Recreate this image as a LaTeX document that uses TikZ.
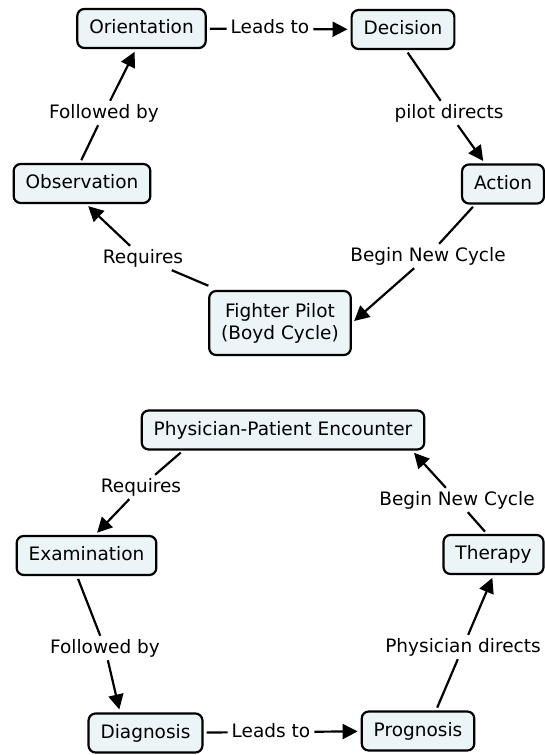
\documentclass[tikz,border=0pt]{standalone}
\usepackage{fontspec}
\setmainfont{DejaVu Sans}
\usetikzlibrary{arrows.meta}
\definecolor{conceptfill}{HTML}{EBF4F6}

\begin{document}
\begin{tikzpicture}[x=1bp,y=-1bp,
  font=\fontsize{18.5bp}{22bp}\selectfont,
  concept box/.style={draw=black,line width=2.2bp,fill=conceptfill,
    rounded corners=7bp,inner xsep=12bp,inner ysep=6bp,minimum height=39bp},
  concept/.style={concept box,text height=14bp,text depth=4bp},
  linking/.style={inner xsep=4bp,inner ysep=3bp,text height=14bp,text depth=4bp},
  linkline/.style={line width=2.2bp,shorten <=3bp},
  linkarrow/.style={line width=2.2bp,-{Triangle[length=15bp,width=15bp]},shorten >=3bp}]

  \useasboundingbox (0,0) rectangle (545,755);

  % Cycle one: the fighter pilot (Boyd cycle)

  \node [concept] (OR) at (141.5,28.5) {Orientation};
  \node [concept] (DE) at (403,29.5) {Decision};
  \node [concept] (OB) at (82,183.5) {Observation};
  \node [concept] (AC) at (503,184) {Action};
  \node [concept box, align=center, minimum height=64bp] (FP) at (280,323)
    {Fighter Pilot\\(Boyd Cycle)};

  \node [linking] (LT1) at (270,29) {Leads to};
  \node [linking] (FB1) at (104,113) {Followed by};
  \node [linking] (PD) at (449,113) {pilot directs};
  \node [linking] (RQ1) at (143,258) {Requires};
  \node [linking] (BNC1) at (428,256) {Begin New Cycle};

  \draw [linkline] (OR) -- (LT1);
  \draw [linkarrow] (LT1) -- (DE);
  \draw [linkline] ([xshift=3bp]DE.south) -- (PD);
  \draw [linkarrow] (PD) -- ([xshift=-18bp]AC.north);
  \draw [linkline] ([xshift=-28bp]AC.south) -- (BNC1);
  \draw [linkarrow] (BNC1) -- (FP.east);
  \draw [linkline] ([xshift=3bp,yshift=3bp]FP.north west) -- (RQ1);
  \draw [linkarrow] (RQ1) -- ([xshift=4bp]OB.south);
  \draw [linkline] ([xshift=-2bp]OB.north) -- (FB1);
  \draw [linkarrow] (FB1) -- ([xshift=-5.5bp]OR.south);

  % Cycle two: the physician-patient encounter

  \node [concept] (PPE) at (283,430) {Physician-Patient Encounter};
  \node [concept] (EX) at (86.5,555.5) {Examination};
  \node [concept] (TH) at (493.5,554.5) {Therapy};
  \node [concept] (DG) at (145.5,733) {Diagnosis};
  \node [concept] (PG) at (418,731) {Prognosis};

  \node [linking] (RQ2) at (141,487) {Requires};
  \node [linking] (BNC2) at (457,500) {Begin New Cycle};
  \node [linking] (FB2) at (105,648) {Followed by};
  \node [linking] (PHD) at (463,647) {Physician directs};
  \node [linking] (LT2) at (271,732) {Leads to};

  \draw [linkline] ([xshift=-100bp]PPE.south) -- (RQ2);
  \draw [linkarrow] (RQ2) -- ([xshift=8.5bp]EX.north);
  \draw [linkline] ([xshift=-9.5bp]EX.south) -- (FB2);
  \draw [linkarrow] (FB2) -- ([xshift=-25.5bp]DG.north);
  \draw [linkline] (DG) -- (LT2);
  \draw [linkarrow] (LT2) -- (PG);
  \draw [linkline] ([xshift=18bp]PG.north) -- (PHD);
  \draw [linkarrow] (PHD) -- (TH.south);
  \draw [linkline] ([xshift=-6.5bp]TH.north) -- (BNC2);
  \draw [linkarrow] (BNC2) -- ([xshift=129bp]PPE.south);
\end{tikzpicture}
\end{document}
